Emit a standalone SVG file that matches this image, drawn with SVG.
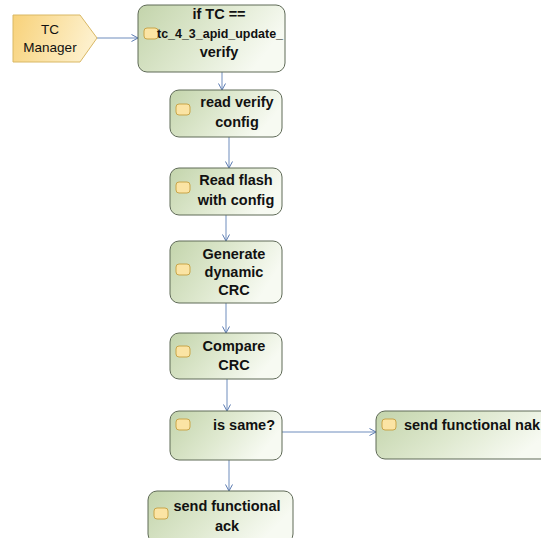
<svg xmlns="http://www.w3.org/2000/svg" width="541" height="538" viewBox="0 0 541 538">
  <defs>
    <linearGradient id="actFill" x1="0" y1="0" x2="1" y2="0.35">
      <stop offset="0" stop-color="#c3d4ab"/>
      <stop offset="0.55" stop-color="#dfe9d0"/>
      <stop offset="1" stop-color="#f7faf2"/>
    </linearGradient>
    <linearGradient id="srcFill" x1="0" y1="0" x2="1" y2="0.2">
      <stop offset="0" stop-color="#f8d27a"/>
      <stop offset="1" stop-color="#fdf0cc"/>
    </linearGradient>
    <marker id="arrow" viewBox="0 0 8 8" refX="7.5" refY="4" markerWidth="8" markerHeight="8" markerUnits="userSpaceOnUse" orient="auto">
      <path d="M1,0.5 L7.5,4 L1,7.5" fill="none" stroke="#5a7ab0" stroke-width="1"/>
    </marker>
    <style>
      .act { fill: url(#actFill); stroke: #5f6a57; stroke-width: 1; }
      .src { fill: url(#srcFill); stroke: #d9b865; stroke-width: 1; }
      .icon { fill: #fbe4a4; stroke: #c9a548; stroke-width: 1; }
      .lbl { font-family: "Liberation Sans", Arial, sans-serif; font-size: 14.5px; font-weight: bold; fill: #111; text-anchor: middle; }
      .lblN { font-family: "Liberation Sans", Arial, sans-serif; font-size: 13.5px; fill: #111; text-anchor: middle; }
      .conn { fill: none; stroke: #6f8dbd; stroke-width: 1; marker-end: url(#arrow); }
    </style>
  </defs>

  <g id="connectors">
    <path class="conn" d="M97,38 H138"/>
    <path class="conn" d="M222,72 V90"/>
    <path class="conn" d="M229,137 V168"/>
    <path class="conn" d="M226,215 V241"/>
    <path class="conn" d="M226,303 V333"/>
    <path class="conn" d="M227,379 V411"/>
    <path class="conn" d="M229,460 V491"/>
    <path class="conn" d="M282,432 H376"/>
  </g>

  <g id="tc-manager">
    <polygon class="src" points="13,15 80,15 97,38 80,62 13,62"/>
    <text class="lblN" x="50" y="34">TC</text>
    <text class="lblN" x="50" y="52">Manager</text>
  </g>

  <g id="if-tc">
    <rect class="act" x="138" y="5" width="147" height="67" rx="9"/>
    <rect class="icon" x="144" y="28" width="14" height="11" rx="3"/>
    <text class="lbl" x="219" y="19">if TC ==</text>
    <text class="lbl" x="220" y="38" style="font-size:13.5px" textLength="126" lengthAdjust="spacingAndGlyphs">tc_4_3_apid_update_</text>
    <text class="lbl" x="219" y="57">verify</text>
  </g>

  <g id="read-verify-config">
    <rect class="act" x="170" y="90" width="112" height="47" rx="9"/>
    <rect class="icon" x="176" y="104" width="14" height="11" rx="3"/>
    <text class="lbl" x="237" y="107">read verify</text>
    <text class="lbl" x="237" y="127">config</text>
  </g>

  <g id="read-flash">
    <rect class="act" x="170" y="168" width="112" height="47" rx="9"/>
    <rect class="icon" x="176" y="182" width="14" height="11" rx="3"/>
    <text class="lbl" x="236" y="185">Read flash</text>
    <text class="lbl" x="236" y="205">with config</text>
  </g>

  <g id="generate-crc">
    <rect class="act" x="170" y="241" width="112" height="62" rx="9"/>
    <rect class="icon" x="176" y="264" width="14" height="11" rx="3"/>
    <text class="lbl" x="234" y="259">Generate</text>
    <text class="lbl" x="234" y="277">dynamic</text>
    <text class="lbl" x="234" y="295">CRC</text>
  </g>

  <g id="compare-crc">
    <rect class="act" x="170" y="333" width="112" height="46" rx="9"/>
    <rect class="icon" x="176" y="346" width="14" height="11" rx="3"/>
    <text class="lbl" x="234" y="351">Compare</text>
    <text class="lbl" x="234" y="370">CRC</text>
  </g>

  <g id="is-same">
    <rect class="act" x="170" y="411" width="112" height="49" rx="9"/>
    <rect class="icon" x="176" y="419" width="14" height="11" rx="3"/>
    <text class="lbl" x="244" y="430">is same?</text>
  </g>

  <g id="send-nak">
    <rect class="act" x="376" y="411" width="180" height="48" rx="9"/>
    <rect class="icon" x="382" y="419" width="14" height="11" rx="3"/>
    <text class="lbl" x="472" y="430">send functional nak</text>
  </g>

  <g id="send-ack">
    <rect class="act" x="148" y="491" width="145" height="52" rx="9"/>
    <rect class="icon" x="154" y="508" width="14" height="11" rx="3"/>
    <text class="lbl" x="227" y="511">send functional</text>
    <text class="lbl" x="227" y="531">ack</text>
  </g>
</svg>
